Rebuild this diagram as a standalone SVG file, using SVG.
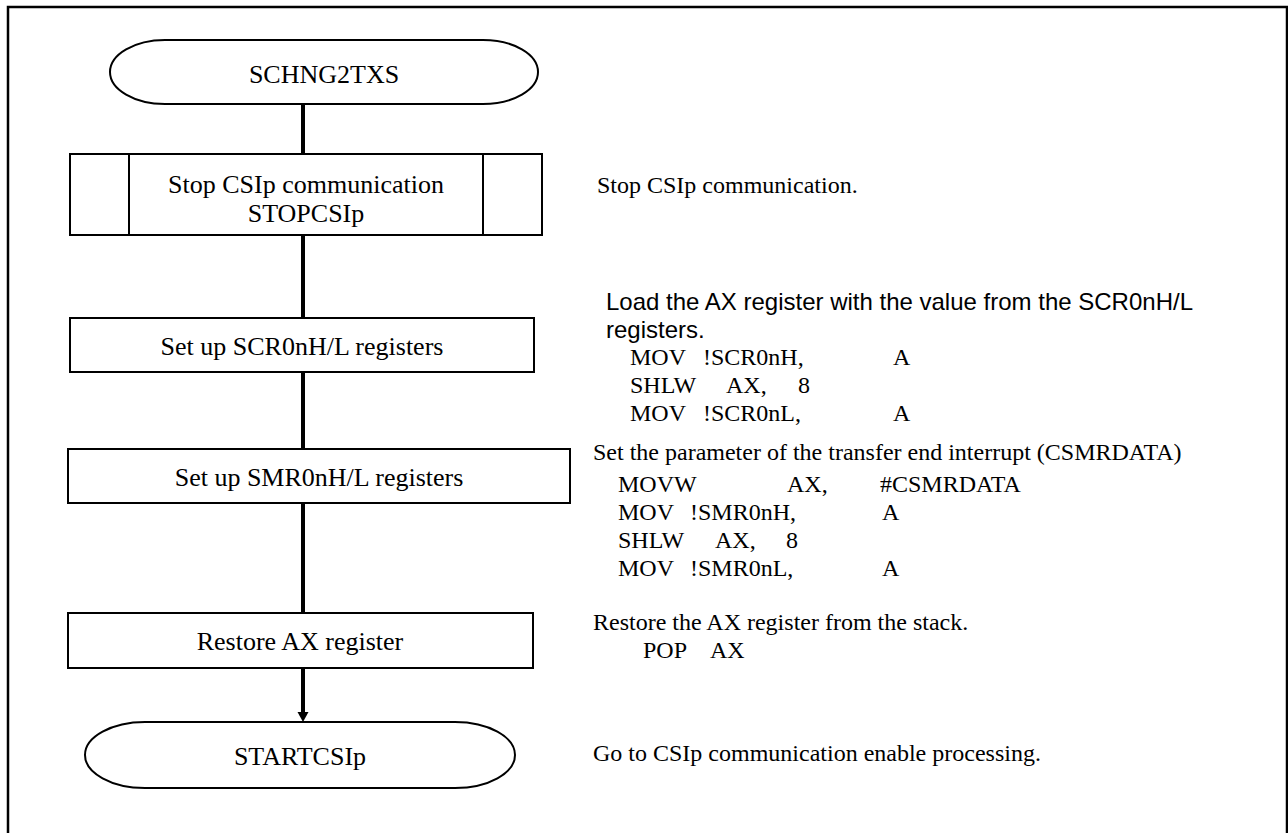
<svg xmlns="http://www.w3.org/2000/svg" width="1288" height="833" viewBox="0 0 1288 833">
<defs>
<style>
.ln{stroke:#000;stroke-width:2;fill:#fff}
.fl{stroke:#000;stroke-width:4;fill:none}
.t{font-family:"Liberation Serif","Times New Roman",serif;font-size:26px;fill:#000}
.c{text-anchor:middle}
.r{font-family:"Liberation Serif","Times New Roman",serif;font-size:24px;fill:#000}
.a{font-family:"Liberation Sans",Arial,sans-serif;font-size:24px;fill:#000}
</style>
<marker id="ah" markerWidth="12" markerHeight="12" refX="0" refY="5.5" orient="auto" markerUnits="userSpaceOnUse">
<path d="M0,0 L10,5.5 L0,11 z" fill="#000"/>
</marker>
</defs>
<rect x="0" y="0" width="1288" height="833" fill="#fff"/>
<rect x="8" y="7" width="1279" height="840" fill="none" stroke="#000" stroke-width="2.5"/>
<g id="connectors">
<line class="fl" x1="303" y1="104" x2="303" y2="154"/>
<line class="fl" x1="303" y1="235" x2="303" y2="318"/>
<line class="fl" x1="303" y1="372" x2="303" y2="449"/>
<line class="fl" x1="303" y1="503" x2="303" y2="613"/>
<line class="fl" x1="303" y1="668" x2="303" y2="712" marker-end="url(#ah)"/>
</g>
<g id="start">
<rect class="ln" x="110" y="40" width="428" height="64" rx="55" ry="32"/>
<text class="t c" x="324" y="83">SCHNG2TXS</text>
</g>
<g id="stopcsi">
<rect class="ln" x="70" y="154" width="472" height="81"/>
<line class="ln" x1="129" y1="154" x2="129" y2="235"/>
<line class="ln" x1="483" y1="154" x2="483" y2="235"/>
<text class="t c" x="306" y="193">Stop CSIp communication</text>
<text class="t c" x="306" y="222">STOPCSIp</text>
</g>
<g id="scr">
<rect class="ln" x="70" y="318" width="464" height="54"/>
<text class="t c" x="302" y="355">Set up SCR0nH/L registers</text>
</g>
<g id="smr">
<rect class="ln" x="68" y="449" width="502" height="54"/>
<text class="t c" x="319" y="486">Set up SMR0nH/L registers</text>
</g>
<g id="restore">
<rect class="ln" x="68" y="613" width="465" height="55"/>
<text class="t c" x="300" y="650">Restore AX register</text>
</g>
<g id="end">
<rect class="ln" x="85" y="722" width="430" height="66" rx="60" ry="33"/>
<text class="t c" x="300" y="765">STARTCSIp</text>
</g>
<g id="notes">
<text class="r" x="597" y="193">Stop CSIp communication.</text>
<text class="a" x="606" y="310">Load the AX register with the value from the SCR0nH/L</text>
<text class="a" x="606" y="338">registers.</text>
<text class="r" x="630" y="365">MOV</text><text class="r" x="703" y="365">!SCR0nH,</text><text class="r" x="893" y="365">A</text>
<text class="r" x="630" y="393">SHLW</text><text class="r" x="726" y="393">AX,</text><text class="r" x="798" y="393">8</text>
<text class="r" x="630" y="421">MOV</text><text class="r" x="703" y="421">!SCR0nL,</text><text class="r" x="893" y="421">A</text>
<text class="r" x="593" y="460">Set the parameter of the transfer end interrupt (CSMRDATA)</text>
<text class="r" x="618" y="492">MOVW</text><text class="r" x="787" y="492">AX,</text><text class="r" x="880" y="492">#CSMRDATA</text>
<text class="r" x="618" y="520">MOV</text><text class="r" x="690" y="520">!SMR0nH,</text><text class="r" x="882" y="520">A</text>
<text class="r" x="618" y="548">SHLW</text><text class="r" x="715" y="548">AX,</text><text class="r" x="786" y="548">8</text>
<text class="r" x="618" y="576">MOV</text><text class="r" x="690" y="576">!SMR0nL,</text><text class="r" x="882" y="576">A</text>
<text class="r" x="593" y="630">Restore the AX register from the stack.</text>
<text class="r" x="643" y="658">POP</text><text class="r" x="710" y="658">AX</text>
<text class="r" x="593" y="761">Go to CSIp communication enable processing.</text>
</g>
</svg>
